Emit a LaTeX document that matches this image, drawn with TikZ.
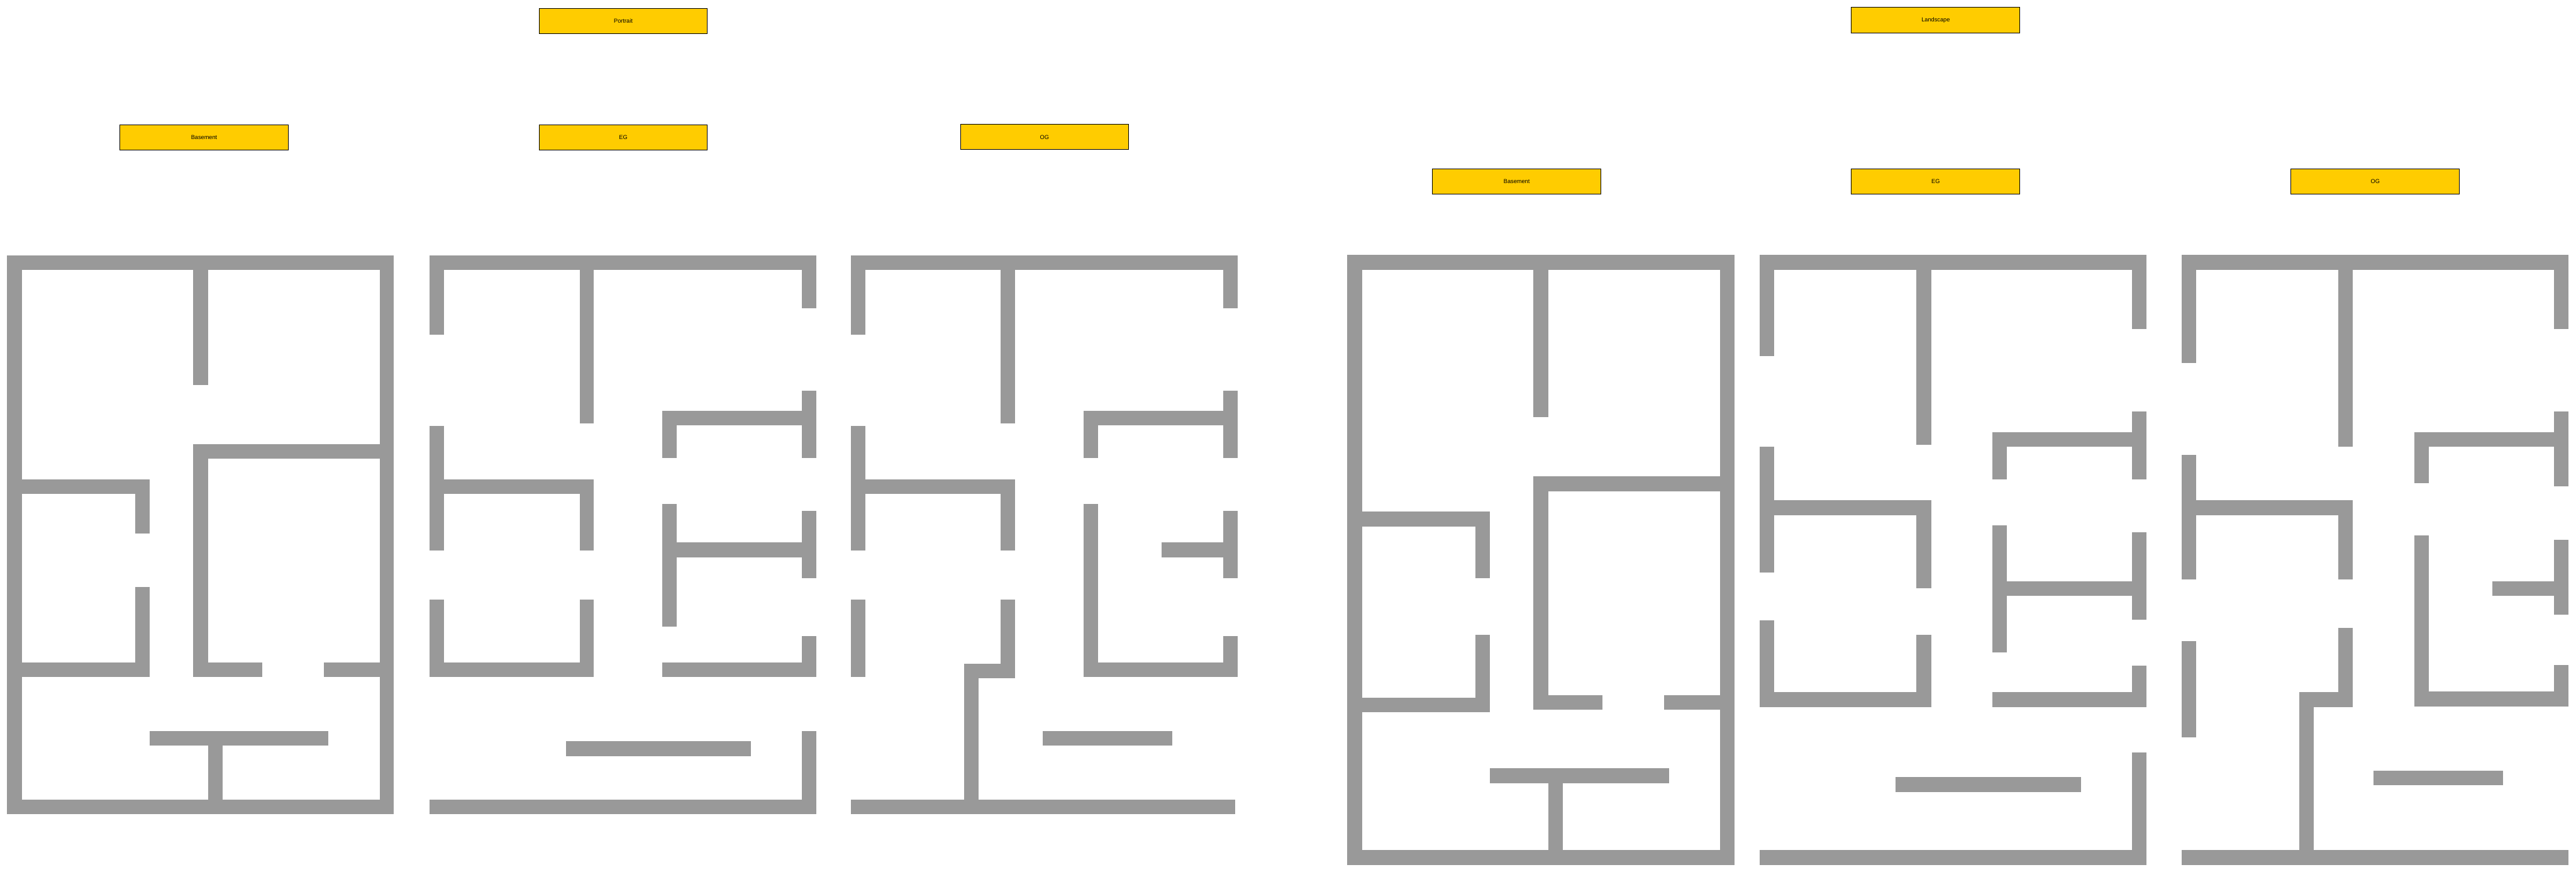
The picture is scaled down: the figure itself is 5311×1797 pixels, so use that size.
\documentclass[tikz,border=0pt]{standalone}
\usepackage{fontspec}
\setmainfont{Liberation Sans}
\usepackage{xcolor}
\definecolor{wallgrey}{HTML}{999999}
\definecolor{tagyellow}{HTML}{FFCC00}

\begin{document}
\begin{tikzpicture}[
  x=0.01cm, y=-0.01cm,
  tag/.style={rectangle, draw=black, line width=0.35pt, fill=tagyellow,
              minimum width=3.47cm, minimum height=0.52cm, inner sep=0pt,
              font=\fontsize{3.4}{4}\selectfont},
  wall/.style={fill=wallgrey},
  plantall/.style={shift={(#1,480)}, x=0.005485cm, y=-0.007908cm},
  planwide/.style={shift={(#1,500)}, x=0.005485cm, y=-0.008272cm}
]
\useasboundingbox (0,0) rectangle (5311,1797);

% --- Tags ---
\node[tag] (portrait)  at (1285,   43.5)  {Portrait};
\node[tag] (landscape) at (3990.8, 41.5)  {Landscape};
\node[tag] (pbase)     at (420.8,  283.5) {Basement};
\node[tag] (peg)       at (1285,   283.5) {EG};
\node[tag] (pog)       at (2153.5, 282.5) {OG};
\node[tag] (lbase)     at (3127,   373.5) {Basement};
\node[tag] (leg)       at (3990.8, 373.5) {EG};
\node[tag] (log)       at (4897,   373.5) {OG};

% --- Portrait: basement ---
\begin{scope}[plantall=0]
  \foreach \xa/\ya/\xb/\yb in {
    27/58/1482/96, 27/58/82/1515, 1428/58/1482/1515, 27/1477/1482/1515,
    727/58/782/396,
    727/550/1482/588, 727/550/782/1157, 727/1119/986/1157, 1218/1119/1482/1157,
    27/642/563/680, 509/642/563/783, 509/923/563/1157, 27/1119/563/1157,
    563/1298/1236/1336, 782/1298/837/1515}
    \fill[wall] (\xa,\ya) rectangle (\xb,\yb);
\end{scope}

% --- Portrait: EG ---
\begin{scope}[plantall=860]
  \foreach \xa/\ya/\xb/\yb in {
    47/58/1502/96, 47/58/102/265, 1448/58/1502/196, 611/58/665/496,
    47/503/102/828, 47/642/665/680, 611/642/665/828,
    47/955/102/1157, 611/955/665/1157, 47/1119/665/1157,
    923/464/1502/502, 923/464/977/586, 1448/411/1502/586,
    923/707/977/1026, 923/807/1502/845, 1448/724/1502/899,
    923/1119/1502/1157, 1448/1051/1502/1157,
    560/1325/1256/1363,
    47/1477/1502/1515, 1448/1299/1502/1515}
    \fill[wall] (\xa,\ya) rectangle (\xb,\yb);
\end{scope}

% --- Portrait: OG ---
\begin{scope}[plantall=1720]
  \foreach \xa/\ya/\xb/\yb in {
    63/58/1518/96, 63/58/118/265, 1463/58/1518/196, 626/58/681/496,
    63/503/118/828, 63/642/681/680, 626/642/681/828,
    63/955/118/1157, 626/955/681/1160, 489/1122/681/1160,
    489/1122/544/1515, 63/1477/1508/1515,
    938/464/1518/502, 938/464/993/586, 1463/411/1518/586,
    938/707/993/1157, 938/1119/1518/1157, 1463/1051/1518/1157,
    1232/807/1518/845, 1463/724/1518/899,
    785/1298/1272/1336}
    \fill[wall] (\xa,\ya) rectangle (\xb,\yb);
\end{scope}

% --- Landscape: basement ---
\begin{scope}[planwide=2750]
  \foreach \xa/\ya/\xb/\yb in {
    51/31/1507/68, 51/31/106/1550, 1452/31/1507/1550, 51/1513/1507/1550,
    751/31/806/435,
    751/582/1507/619, 751/582/806/1163, 751/1127/1011/1163, 1242/1127/1507/1163,
    51/670/588/707, 532/670/588/835, 532/977/588/1170, 51/1133/588/1170,
    587/1309/1261/1346, 806/1309/861/1550}
    \fill[wall] (\xa,\ya) rectangle (\xb,\yb);
\end{scope}

% --- Landscape: EG ---
\begin{scope}[planwide=3600]
  \foreach \xa/\ya/\xb/\yb in {
    51/31/1506/68, 51/31/106/282, 1451/31/1506/216, 641/31/696/503,
    51/509/106/821, 51/642/696/679, 641/642/696/861,
    51/941/106/1157, 641/977/696/1157, 51/1120/696/1157,
    926/473/1506/509, 926/473/981/589, 1451/421/1506/589,
    926/704/981/1020, 926/844/1506/880, 1451/721/1506/939,
    926/1120/1506/1157, 1451/1053/1506/1157,
    563/1331/1260/1368,
    51/1513/1506/1550, 1451/1270/1506/1550}
    \fill[wall] (\xa,\ya) rectangle (\xb,\yb);
\end{scope}

% --- Landscape: OG ---
\begin{scope}[planwide=4451]
  \foreach \xa/\ya/\xb/\yb in {
    85/31/1541/68, 85/31/140/300, 1486/31/1541/216, 675/31/730/509,
    85/528/140/839, 85/642/730/679, 675/642/730/839,
    85/992/140/1232, 675/960/730/1157, 528/1120/730/1157,
    528/1120/582/1550, 85/1513/1541/1550,
    960/473/1541/509, 960/473/1016/599, 1486/421/1541/607,
    960/729/1016/1155, 960/1118/1541/1155, 1486/1052/1541/1155,
    1254/844/1541/880, 1486/740/1541/926,
    808/1315/1295/1352}
    \fill[wall] (\xa,\ya) rectangle (\xb,\yb);
\end{scope}

\end{tikzpicture}
\end{document}
